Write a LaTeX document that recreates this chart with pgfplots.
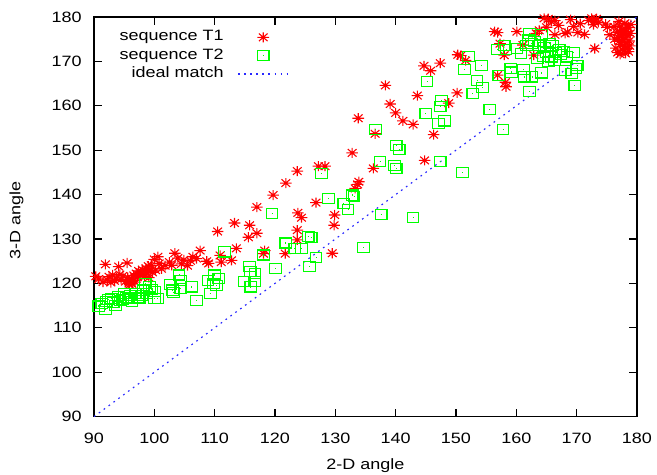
\documentclass[border=0pt]{standalone}
\usepackage{fontspec}
\setmainfont{Liberation Sans}[FakeStretch=1.2]
\usepackage{pgfplots}
\pgfplotsset{compat=1.18}
\definecolor{gpred}{RGB}{255,0,0}
\definecolor{gpgreen}{RGB}{0,255,0}
\definecolor{gpblue}{RGB}{40,40,255}

% gnuplot style point types, a little wider than tall like the reference
\pgfdeclareplotmark{gpstar}{%
  \pgfpathmoveto{\pgfqpoint{-1.15\pgfplotmarksize}{0pt}}\pgfpathlineto{\pgfqpoint{1.15\pgfplotmarksize}{0pt}}%
  \pgfpathmoveto{\pgfqpoint{0pt}{-\pgfplotmarksize}}\pgfpathlineto{\pgfqpoint{0pt}{\pgfplotmarksize}}%
  \pgfpathmoveto{\pgfqpoint{-0.86\pgfplotmarksize}{-0.75\pgfplotmarksize}}\pgfpathlineto{\pgfqpoint{0.86\pgfplotmarksize}{0.75\pgfplotmarksize}}%
  \pgfpathmoveto{\pgfqpoint{-0.86\pgfplotmarksize}{0.75\pgfplotmarksize}}\pgfpathlineto{\pgfqpoint{0.86\pgfplotmarksize}{-0.75\pgfplotmarksize}}%
  \pgfusepathqstroke}
\pgfdeclareplotmark{gpbox}{%
  \pgfpathmoveto{\pgfqpoint{-1.15\pgfplotmarksize}{-\pgfplotmarksize}}%
  \pgfpathlineto{\pgfqpoint{1.15\pgfplotmarksize}{-\pgfplotmarksize}}%
  \pgfpathlineto{\pgfqpoint{1.15\pgfplotmarksize}{\pgfplotmarksize}}%
  \pgfpathlineto{\pgfqpoint{-1.15\pgfplotmarksize}{\pgfplotmarksize}}%
  \pgfpathclose
  \pgfpathmoveto{\pgfqpoint{-0.3pt}{0pt}}\pgfpathlineto{\pgfqpoint{0.3pt}{0pt}}%
  \pgfusepathqstroke}

\pgfplotsset{
  marklegend/.style={legend image code/.code={\path (0pt,0pt) (34.7pt,0pt);
      \draw[##1,mark repeat=2,mark phase=2] plot coordinates {(0pt,0pt)(17.35pt,0pt)(34.7pt,0pt)};}},
  linelegend/.style={legend image code/.code={\draw[##1] (0pt,0pt) -- (34.7pt,0pt);}},
}

\begin{document}
\begin{tikzpicture}
\useasboundingbox (-65.2pt,-39.9pt) rectangle (390.7pt,289.1pt);
\begin{axis}[
    at={(0,0)}, anchor=south west,
    scale only axis,
    width=376.8pt, height=277.3pt,
    xmin=90, xmax=180, ymin=90, ymax=180,
    xtick={90,100,...,180}, ytick={90,100,...,180},
    minor tick num=0,
    tick align=inside,
    major tick length=5.5pt,
    every tick/.style={black, line width=0.9pt},
    axis line style={line width=1pt},
    /pgf/number format/assume math mode=true,
    font=\fontsize{10.4}{12.5}\selectfont,
    xticklabel style={anchor=base, inner sep=0pt, yshift=-18.4pt},
    yticklabel style={anchor=east, inner sep=0pt, xshift=-8.3pt},
    xlabel={2-D angle}, ylabel={3-D angle},
    xlabel style={at={(axis description cs:0.5,0)}, anchor=base, yshift=-36.4pt},
    ylabel style={at={(axis description cs:-0.1428,0.49)}, anchor=center},
    legend cell align=right,
    legend plot pos=right,
    legend style={draw=none, fill=none, at={(axis description cs:0,1)},
        anchor=north east, xshift=135.4pt, yshift=-9.2pt,
        inner sep=0pt, row sep=3.3pt, column sep=9.7pt,
        nodes={inner sep=0pt, text height=7.2pt, text depth=2.2pt}},
]
\addplot[only marks, mark=gpstar, mark size=3.5pt, draw=gpred, line width=0.75pt,
    marklegend]
coordinates {
(90.3,121.6)(90.8,121.0)(91.5,120.3)(91.9,124.3)(92.2,120.8)(92.5,121.5)
(92.8,120.2)(93.1,121.9)(93.4,120.6)(93.7,121.2)(94.1,123.8)(94.3,122.0)
(94.5,120.9)(94.8,121.7)(95.2,120.4)(95.5,124.6)(95.6,121.3)(95.8,120.0)
(95.9,119.7)(96.0,120.5)(96.2,121.0)(96.3,119.9)(96.5,120.7)(96.6,121.8)
(96.8,120.3)(97.0,122.2)(97.2,121.4)(97.4,122.8)(97.6,121.9)(97.8,122.5)
(98.0,123.1)(98.1,122.0)(98.3,122.7)(98.4,121.6)(98.6,123.4)(98.8,122.3)
(99.0,123.9)(99.1,121.3)(99.3,122.9)(99.5,124.1)(99.7,122.5)(100.0,125.4)
(100.2,123.0)(100.6,126.0)(100.8,124.5)(101.2,123.3)(101.8,124.0)(102.5,124.8)
(102.9,124.1)(103.4,126.8)(103.9,125.7)(104.5,124.4)(104.9,125.3)(105.5,124.0)
(106.0,125.1)(106.4,126.0)(107.0,125.6)(107.6,127.4)(108.7,125.0)(109.0,124.5)
(110.5,131.7)(110.9,126.3)(111.1,124.8)(112.8,125.2)(113.3,133.6)(113.6,127.9)
(115.6,130.4)(115.8,133.1)(117.0,137.2)(117.0,131.3)(118.1,126.7)(118.3,127.4)
(119.7,139.9)(121.7,126.7)(121.8,142.6)(123.7,145.3)(123.8,135.9)(123.7,132.0)
(123.7,129.8)(124.4,134.8)(126.8,138.2)(127.2,146.4)(128.3,146.4)(129.5,126.8)
(129.8,133.1)(129.9,135.4)(132.8,149.4)(133.3,141.4)(133.7,142.3)(133.9,142.9)
(133.8,157.2)(136.3,145.9)(136.6,153.7)(138.3,164.6)(139.1,160.4)(140.0,158.4)
(141.2,156.6)(142.9,155.8)(143.6,162.3)(144.7,169.0)(144.8,147.7)(145.8,167.9)
(146.3,153.5)(147.4,169.6)(148.8,160.6)(150.2,162.9)(150.3,171.5)(150.8,171.3)
(151.6,170.2)(156.4,176.7)(156.9,176.5)(156.9,166.9)(157.3,174.0)(158.0,171.4)
(158.2,165.3)(158.3,164.3)(160.1,176.7)(161.1,173.7)(162.9,171.4)(163.3,176.3)
(163.8,177.0)(165.0,177.7)(165.3,179.6)(165.8,179.0)(166.4,176.0)(166.4,179.2)
(167.0,178.1)(168.1,176.3)(168.5,176.6)(169.5,177.9)(170.2,176.5)(170.6,178.5)
(171.3,176.1)(172.0,179.2)(172.5,179.7)(172.9,179.0)(173.0,172.9)(173.3,179.6)
(173.6,178.8)(174.8,178.4)(175.1,177.7)(175.5,176.0)(176.3,175.0)(176.5,173.0)
(176.7,176.5)(176.8,172.0)(177.0,174.5)(177.1,178.0)(177.2,171.6)(177.3,173.8)
(177.4,175.7)(177.5,177.0)(177.6,172.6)(177.7,174.9)(177.8,176.1)(177.9,173.3)
(178.0,178.6)(178.0,175.3)(178.1,171.8)(178.2,174.2)(178.3,176.8)(178.4,172.9)
(178.5,175.8)(178.6,177.6)(178.7,174.6)(178.8,173.5)(178.9,176.3)(179.0,178.3)
(177.0,179.0)(176.2,177.8)(176.9,175.4)(177.3,176.6)(178.1,177.3)(178.6,172.2)
(164.6,179.7)(169.0,179.4)(172.8,178.3)
};
\addlegendentry{sequence T1}

\addplot[only marks, mark=gpbox, mark size=3.5pt, draw=gpgreen, line width=0.8pt,
    marklegend]
coordinates {
(90.8,114.9)(91.3,115.5)(91.9,114.1)(92.1,115.9)(92.4,116.3)(92.9,116.6)
(93.2,115.8)(93.6,115.1)(94.0,117.0)(94.3,116.2)(94.7,116.4)(95.0,117.7)
(95.4,116.9)(95.7,116.6)(96.0,117.3)(96.3,115.9)(96.8,117.7)(97.2,116.8)
(97.5,116.6)(98.0,117.2)(98.2,118.5)(98.5,120.0)(98.8,117.7)(99.2,119.2)
(99.6,118.6)(100.0,118.1)(100.0,116.6)(100.6,116.6)(102.7,119.8)(103.0,118.5)
(103.2,117.9)(104.1,121.9)(104.4,120.7)(104.4,118.9)(106.2,119.2)(107.0,116.2)
(108.9,120.7)(109.3,117.7)(109.8,120.0)(110.0,121.9)(110.3,119.6)(110.7,121.1)
(111.6,127.1)(114.9,120.5)(115.8,123.8)(115.9,122.6)(116.0,119.2)(116.6,120.4)
(116.7,122.2)(118.1,126.4)(119.5,135.7)(120.1,123.4)(121.8,129.1)(123.3,127.9)
(124.4,127.9)(125.5,130.5)(126.0,130.3)(125.7,123.8)(126.8,125.8)(127.7,144.7)
(128.9,139.1)(131.4,138.0)(132.1,136.6)(132.8,139.9)(133.1,139.6)(134.7,128.1)
(136.7,154.6)(137.4,147.5)(137.6,135.6)(139.8,146.6)(140.1,145.9)(140.1,151.1)
(140.6,150.2)(142.9,134.8)(145.0,158.2)(145.2,165.4)(147.1,156.0)(147.4,147.4)
(147.6,161.2)(147.4,159.9)(148.1,156.6)(151.1,145.0)(151.4,168.1)(152.1,171.1)
(152.8,162.7)(153.5,165.7)(154.2,169.0)(154.4,164.2)(155.6,159.2)(156.9,172.6)
(157.1,166.8)(157.8,154.6)(158.0,173.6)(158.3,172.6)(159.1,168.4)(159.2,167.6)
(160.1,172.9)(160.8,171.7)(161.2,168.1)(161.3,166.5)(161.7,173.6)(162.0,174.8)
(162.2,176.2)(162.5,174.0)(162.2,163.3)(162.6,166.5)(163.0,174.4)(163.5,170.6)
(164.2,176.1)(164.2,167.4)(164.7,173.2)(165.0,172.1)(165.3,169.9)(165.8,171.0)
(166.0,173.5)(166.3,170.2)(166.6,172.0)(167.1,172.6)(167.4,171.5)(167.8,172.3)
(168.1,168.0)(168.4,171.0)(169.2,167.2)(169.5,172.0)(169.7,164.6)(169.9,168.4)
(170.1,169.1)(163.8,173.6)(164.5,171.2)(165.5,174.0)
};
\addlegendentry{sequence T2}

\addplot[gpblue, line width=0.8pt, dash pattern=on 1.2pt off 3pt, linelegend]
coordinates {(90,90)(180,180)};
\addlegendentry{ideal match}
\end{axis}
\end{tikzpicture}
\end{document}
